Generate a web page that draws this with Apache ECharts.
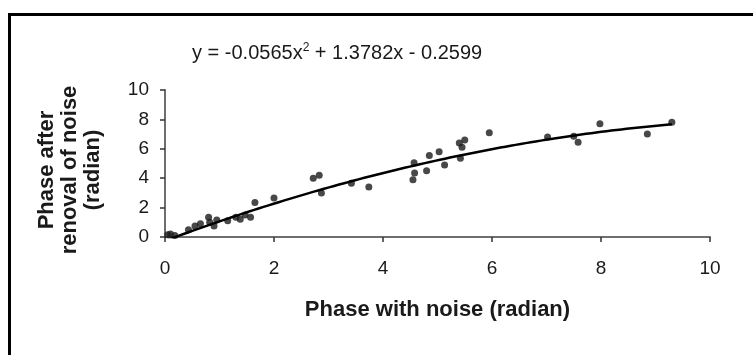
<!DOCTYPE html>
<html><head><meta charset="utf-8">
<script src="https://cdn.jsdelivr.net/npm/echarts@6/dist/echarts.min.js"></script>
<style>html,body{margin:0;padding:0;background:#fff}#c{width:753px;height:355px}</style>
</head><body><div id="c"></div>
<script>
var phaseWithNoise = [0.05,0.1,0.18,0.43,0.55,0.65,0.8,0.82,0.9,0.95,1.15,1.3,1.38,1.47,1.57,1.65,2.0,2.72,2.83,2.87,3.42,3.74,4.55,4.58,4.57,4.8,4.85,5.03,5.13,5.42,5.4,5.5,5.45,5.95,7.02,7.5,7.58,7.98,8.85,9.3];
var phaseAfterRemoval = [0.15,0.2,0.1,0.5,0.75,0.9,1.35,1.0,0.75,1.15,1.1,1.35,1.2,1.5,1.35,2.35,2.65,4.0,4.2,3.0,3.65,3.4,3.9,4.35,5.05,4.5,5.55,5.8,4.9,5.35,6.4,6.6,6.1,7.1,6.8,6.85,6.45,7.7,7.0,7.8];
// Trendline coefficients as printed on the chart: y = a x^2 + b x + c
var trendCoef = [-0.0565, 1.3782, -0.2599];
var trendRange = [0.05, 9.3];
var xTicks = [0,2,4,6,8,10];
var yTicks = [0,2,4,6,8,10];

var scatterData = phaseWithNoise.map(function(x,i){return [x, phaseAfterRemoval[i]];});
var trendData = [];
for (var k=0;k<=100;k++){
  var x = trendRange[0] + (trendRange[1]-trendRange[0])*k/100;
  trendData.push([x, trendCoef[0]*x*x + trendCoef[1]*x + trendCoef[2]]);
}

var chart = echarts.init(document.getElementById('c'), null, {renderer:'canvas'});
var axisCol = '#6e6e6e';
chart.setOption({
  animation:false,
  backgroundColor:'#fff',
  grid:{left:165, right:43, top:90, bottom:118, containLabel:false},
  xAxis:{type:'value', min:xTicks[0], max:xTicks[xTicks.length-1], interval:2,
    splitLine:{show:false},
    axisLine:{lineStyle:{color:axisCol,width:2}},
    axisTick:{length:5,lineStyle:{color:'#333',width:1.5}},
    axisLabel:{margin:22, fontFamily:'Liberation Sans, Arial', fontSize:19, color:'#1a1a1a'},
    name:'Phase with noise (radian)', nameLocation:'middle', nameGap:62,
    nameTextStyle:{fontFamily:'Liberation Sans, Arial', fontSize:22, fontWeight:'bold', color:'#1a1a1a'}
  },
  yAxis:{type:'value', min:yTicks[0], max:yTicks[yTicks.length-1], interval:2,
    splitLine:{show:false},
    axisLine:{show:true,lineStyle:{color:axisCol,width:2}},
    axisTick:{show:true,length:5,lineStyle:{color:'#333',width:1.5}},
    axisLabel:{margin:16, fontFamily:'Liberation Sans, Arial', fontSize:19, color:'#1a1a1a'}
  },
  graphic:[
    {type:'rect', left:7, top:12, shape:{x:0,y:0,width:800,height:400}, style:{fill:'none',stroke:'#000',lineWidth:3}, z:100},
    {type:'text', x:192, y:53, style:{
      text:'{a|y = -0.0565x}{s|2}{a| + 1.3782x - 0.2599}',
      verticalAlign:'middle', align:'left',
      rich:{a:{fontFamily:'Liberation Sans, Arial', fontSize:20, fill:'#1a1a1a'},
            s:{fontFamily:'Liberation Sans, Arial', fontSize:12, fill:'#1a1a1a', verticalAlign:'top', padding:[0,0,10,0]}}
    }},
    {type:'text', x:70, y:170, rotation:Math.PI/2, style:{
      text:'Phase after\nrenoval of noise\n(radian)', align:'center', verticalAlign:'middle',
      fontFamily:'Liberation Sans, Arial', fontSize:22, fontWeight:'bold', fill:'#1a1a1a', lineHeight:23
    }}
  ],
  series:[
    {type:'scatter', data:scatterData, symbol:'circle', symbolSize:7, itemStyle:{color:'#1a1a1a'}, z:3},
    {type:'line', data:trendData, showSymbol:false, symbol:'none', clip:true, lineStyle:{color:'#000',width:2.5}, z:4}
  ]
});
</script></body></html>
